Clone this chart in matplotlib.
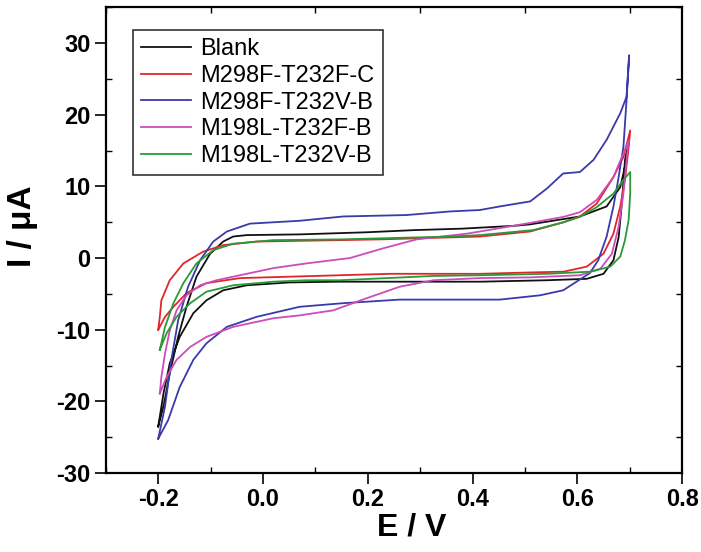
import matplotlib
matplotlib.use('Agg')
import matplotlib.pyplot as plt
from matplotlib.ticker import MultipleLocator

plt.rcParams['axes.unicode_minus'] = False

# Blank
blank_E = [-0.200, -0.190, -0.178, -0.162, -0.146, -0.127, -0.101, -0.076, -0.057, -0.031,
           0.07, 0.2, 0.29, 0.38, 0.48, 0.51, 0.605, 0.656, 0.682, 0.694, 0.699,
           0.691, 0.685, 0.679, 0.669, 0.650, 0.618, 0.542, 0.414, 0.147, 0.051,
           -0.031, -0.076, -0.108, -0.133, -0.159, -0.178, -0.190, -0.200]
blank_I = [-23.5, -20.7, -16.1, -11.0, -6.8, -2.6, 0.6, 2.3, 3.0, 3.2,
           3.3, 3.6, 3.9, 4.1, 4.5, 4.7, 5.8, 7.2, 9.9, 13.7, 16.5,
           13.7, 7.6, 2.95, -0.3, -2.2, -2.9, -3.1, -3.3, -3.3, -3.4,
           -3.8, -4.5, -5.9, -7.7, -11.0, -14.7, -18.9, -23.5]

# M298F-T232F-C
ffc_E = [-0.200, -0.197, -0.194, -0.178, -0.152, -0.114, -0.076, -0.012, 0.147, 0.223,
         0.414, 0.51, 0.574, 0.605, 0.637, 0.669, 0.688, 0.701,
         0.698, 0.691, 0.682, 0.669, 0.650, 0.618, 0.574, 0.516, 0.414, 0.242,
         0.147, 0.051, -0.044, -0.108, -0.146, -0.171, -0.187, -0.200]
ffc_I = [-10.0, -8.2, -5.9, -3.1, -0.75, 0.9, 1.8, 2.3, 2.5, 2.6,
         3.0, 3.7, 5.0, 5.8, 7.6, 11.3, 14.1, 17.8,
         15.5, 10.9, 7.2, 3.4, 0.6, -1.2, -1.9, -2.0, -2.2, -2.2,
         -2.4, -2.6, -2.8, -3.5, -4.9, -6.8, -8.2, -10.0]

# M298F-T232V-B
fvb_E = [-0.200, -0.187, -0.175, -0.162, -0.143, -0.120, -0.095, -0.069, -0.025, 0.07,
         0.153, 0.274, 0.357, 0.414, 0.452, 0.510, 0.542, 0.573, 0.605, 0.631,
         0.656, 0.682, 0.694, 0.699,
         0.694, 0.688, 0.678, 0.669, 0.656, 0.640, 0.624, 0.573, 0.529, 0.452,
         0.261, 0.153, 0.070, -0.012, -0.069, -0.108, -0.133, -0.159, -0.181, -0.200]
fvb_I = [-25.2, -20.7, -14.2, -8.7, -4.0, -0.3, 2.3, 3.7, 4.8, 5.2,
         5.8, 6.0, 6.5, 6.7, 7.2, 7.9, 9.7, 11.8, 12.0, 13.7,
         16.5, 20.2, 22.5, 28.3,
         22.0, 15.5, 10.9, 7.2, 3.0, -0.3, -2.1, -4.5, -5.2, -5.8,
         -5.8, -6.3, -6.8, -8.2, -9.6, -11.9, -14.2, -18.0, -22.6, -25.2]

# M198L-T232F-B
lfb_E = [-0.197, -0.194, -0.187, -0.178, -0.165, -0.146, -0.120, -0.089, -0.044, 0.020,
         0.083, 0.166, 0.229, 0.293, 0.389, 0.414, 0.51, 0.574, 0.605, 0.637,
         0.669, 0.688, 0.698,
         0.694, 0.688, 0.679, 0.666, 0.644, 0.605, 0.51, 0.414, 0.325, 0.261,
         0.198, 0.134, 0.070, 0.020, -0.057, -0.108, -0.139, -0.165, -0.184, -0.197]
lfb_I = [-18.9, -16.6, -13.3, -10.1, -7.3, -5.2, -3.8, -3.1, -2.4, -1.4,
         -0.75, 0.0, 1.35, 2.6, 3.4, 3.7, 4.9, 5.75, 6.4, 8.1,
         11.3, 14.6, 16.4,
         13.7, 9.0, 4.4, 0.6, -1.5, -2.4, -2.7, -2.8, -3.1, -4.0,
         -5.6, -7.3, -8.0, -8.4, -9.6, -11.0, -12.4, -14.2, -16.6, -18.9]

# M198L-T232V-B
lvb_E = [-0.197, -0.187, -0.171, -0.152, -0.127, -0.095, -0.057, 0.020, 0.147, 0.357,
         0.414, 0.516, 0.574, 0.605, 0.637, 0.669, 0.688, 0.701,
         0.701, 0.698, 0.691, 0.682, 0.663, 0.625, 0.542, 0.414, 0.325, 0.147,
         0.083, 0.020, -0.057, -0.108, -0.139, -0.165, -0.184, -0.197]
lvb_I = [-12.8, -9.6, -6.3, -3.5, -0.75, 1.1, 2.0, 2.5, 2.6, 3.0,
         3.2, 3.9, 5.0, 5.75, 7.1, 9.0, 10.9, 12.0,
         9.0, 5.3, 2.5, 0.2, -1.2, -1.9, -2.2, -2.4, -2.5, -3.1,
         -3.1, -3.3, -3.8, -4.7, -6.3, -8.2, -10.5, -12.8]

labels = ['Blank', 'M298F-T232F-C', 'M298F-T232V-B', 'M198L-T232F-B', 'M198L-T232V-B']
colors = ['#111111', '#e0262c', '#3a3aa8', '#cc4cbc', '#2a9a36']
series = [(blank_E, blank_I), (ffc_E, ffc_I), (fvb_E, fvb_I), (lfb_E, lfb_I), (lvb_E, lvb_I)]

fig = plt.figure(figsize=(7.01, 5.52), dpi=100)
ax = fig.add_axes([0.151, 0.143, 0.822, 0.844])

for (E, I), lab, c in zip(series, labels, colors):
    ax.plot(E, I, color=c, lw=1.3, label=lab)

ax.set_xlim(-0.3, 0.8)
ax.set_ylim(-30, 35)
ax.set_xticks([-0.2, 0.0, 0.2, 0.4, 0.6, 0.8])
ax.set_yticks([-30, -20, -10, 0, 10, 20, 30])
ax.xaxis.set_minor_locator(MultipleLocator(0.1))
ax.yaxis.set_minor_locator(MultipleLocator(5))
ax.tick_params(which='major', direction='out', length=8, width=1.2, pad=3)
ax.tick_params(which='minor', direction='in', length=4, width=1.0,
               top=True, right=True)
for s in ax.spines.values():
    s.set_linewidth(1.6)

for t in ax.get_xticklabels() + ax.get_yticklabels():
    t.set_family('Liberation Sans')
    t.set_fontweight('bold')
    t.set_fontsize(17)

ax.set_xlabel('E / V', fontsize=23, fontweight='bold', family='Liberation Sans')
ax.xaxis.set_label_coords(0.53, -0.085)
ax.set_ylabel('I / μA', fontsize=24, fontweight='bold', family='Liberation Sans')
ax.yaxis.set_label_coords(-0.118, 0.53)

leg = ax.legend(loc='upper left', bbox_to_anchor=(0.047, 0.951), borderaxespad=0,
                prop={'family': 'Liberation Sans', 'size': 17}, frameon=True, fancybox=False,
                handlelength=2.1, handletextpad=0.4, labelspacing=0.2, borderpad=0.35)
leg.get_frame().set_edgecolor('black')
leg.get_frame().set_linewidth(1.2)

fig.savefig('out.png', dpi=100)
